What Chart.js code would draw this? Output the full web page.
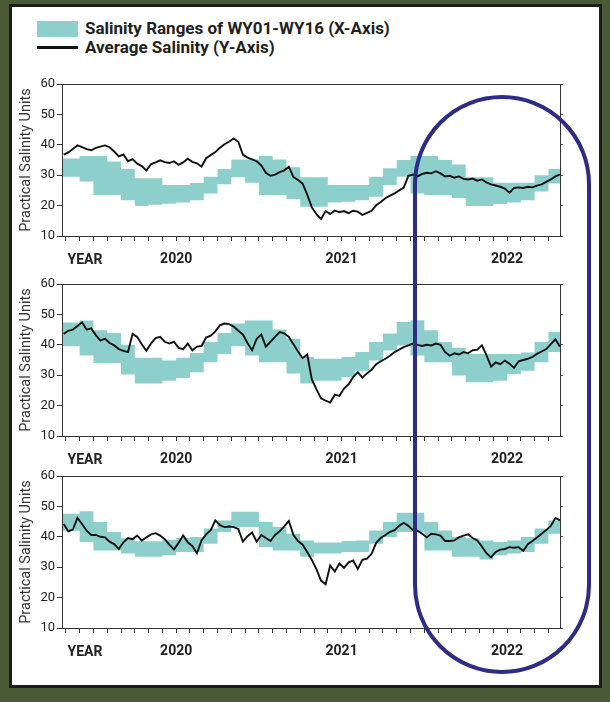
<!DOCTYPE html>
<html>
<head>
<meta charset="utf-8">
<script src="https://cdn.jsdelivr.net/npm/chart.js@4.4.0/dist/chart.umd.min.js"></script>
<style>
    html, body { margin: 0; padding: 0; }
    body { width: 610px; height: 702px; background: #4a5a36; position: relative; overflow: hidden; font-family: Roboto, sans-serif; }
    #panel { position: absolute; left: 9px; top: 4px; width: 593px; height: 684px; box-sizing: border-box; background: #fff; border: 3px solid #1c1c1c; }
    .chart { position: absolute; left: 10px; }
    .lg { position: absolute; left: 85px; font: 700 17px Roboto, sans-serif; color: #231f20; line-height: 19px; white-space: nowrap; }
    .swatch { position: absolute; left: 37px; top: 21px; width: 41px; height: 16px; background: #8dcfcb; }
    .dash { position: absolute; left: 37px; top: 46px; width: 41px; height: 3px; background: #111; }
    #oval { position: absolute; left: 413px; top: 95px; width: 178px; height: 579px; box-sizing: border-box; border: 4px solid #2f2c86; border-radius: 89px; z-index: 10; }
</style>
</head>
<body>
<div id="panel"></div>
<div class="swatch"></div>
<div class="lg" style="top:19px">Salinity Ranges of WY01-WY16 (X-Axis)</div>
<div class="dash"></div>
<div class="lg" style="top:38px">Average Salinity (Y-Axis)</div>

<canvas id="salinity1" class="chart" style="top:70px" width="570" height="200"></canvas>
<canvas id="salinity2" class="chart" style="top:270px" width="570" height="200"></canvas>
<canvas id="salinity3" class="chart" style="top:462px" width="570" height="200"></canvas>
<div id="oval"></div>

<script>
// ================= DATA =================
// x axis runs roughly May 2019 - May 2022 (decimal years)
const xMin = 2019.31;
const xMax = 2022.32;
const firstMonth = 2019 + 4 / 12;   // May 2019, first monthly step of the ranges
const yearTicks = [2020, 2021, 2022];
const yearLabels = ['2020', '2021', '2022'];
const yTicks = [10, 20, 30, 40, 50, 60];

// average salinity, one reading every ~10 days from lineStart
const lineStart = 2019.32;

// panel 1
const rangeHi1 = [35.5, 36.3, 36.3, 34.5, 32.0, 29.0, 29.0, 26.8, 26.8, 27.4, 29.5, 32.0, 35.2, 35.2, 36.3, 35.2, 32.6, 29.3,
    29.3, 26.8, 26.8, 26.8, 29.5, 32.3, 35.0, 36.3, 36.3, 35.0, 33.5, 29.3, 29.3, 27.5, 27.5, 27.5, 30.0, 32.0];
const rangeLo1 = [29.5, 27.9, 23.5, 23.5, 21.8, 19.9, 20.3, 20.6, 21.0, 21.8, 24.0, 27.0, 29.3, 27.5, 23.5, 23.5, 22.1, 19.6,
    19.6, 21.0, 21.3, 21.8, 22.9, 26.8, 29.5, 24.0, 23.5, 23.5, 22.5, 19.9, 19.9, 20.5, 21.0, 21.8, 24.6, 27.3];
const avg1 = [36.8, 37.5, 38.6, 39.8, 39.2, 38.6, 38.2, 39.0, 39.4, 39.8,
    39.2, 37.8, 36.2, 36.8, 34.6, 35.3, 33.8, 33.0, 31.5, 33.6,
    34.2, 34.9, 34.3, 34.0, 34.6, 33.4, 34.2, 35.4, 34.4, 33.9,
    32.8, 35.6, 36.6, 37.6, 39.0, 40.2, 41.0, 42.1, 41.0, 36.8,
    35.8, 35.2, 34.6, 33.2, 30.8, 29.8, 30.2, 31.0, 31.6, 32.8,
    29.4, 28.4, 27.2, 23.6, 19.4, 17.2, 15.6, 18.2, 17.2, 18.4,
    17.8, 18.2, 17.5, 18.3, 18.0, 16.9, 17.6, 18.3, 20.1, 21.2,
    22.4, 23.3, 24.0, 25.0, 25.9, 29.8, 30.2, 29.6, 30.4, 30.8,
    30.6, 31.3, 30.6, 29.6, 29.8, 29.2, 29.6, 28.8, 28.6, 28.9,
    28.2, 28.6, 27.6, 27.0, 26.6, 26.2, 25.6, 24.2, 25.8, 26.0,
    25.8, 26.2, 26.0, 26.6, 27.0, 27.8, 28.6, 29.6, 30.2];

// panel 2
const rangeHi2 = [47.3, 48.0, 44.8, 43.9, 40.0, 35.7, 35.7, 34.8, 35.7, 37.3, 40.9, 43.9, 47.0, 48.0, 48.0, 45.0, 42.0, 36.0,
    35.4, 35.4, 36.0, 37.6, 40.9, 43.7, 47.5, 48.1, 44.8, 40.9, 39.0, 37.0, 37.0, 37.0, 37.0, 37.5, 40.9, 44.2];
const rangeLo2 = [39.5, 36.5, 34.0, 34.0, 30.2, 27.3, 27.3, 28.2, 29.1, 31.0, 34.3, 37.0, 39.5, 36.5, 34.3, 34.3, 30.6, 27.3,
    28.2, 28.2, 29.3, 31.5, 34.8, 38.1, 39.8, 36.5, 34.3, 34.3, 29.9, 27.7, 27.7, 28.2, 30.4, 31.5, 34.3, 37.6];
const avg2 = [43.6, 44.6, 45.0, 46.2, 47.4, 45.0, 45.4, 43.2, 41.4, 42.0,
    40.6, 39.8, 38.6, 38.0, 37.6, 43.6, 42.6, 40.2, 38.0, 40.4,
    42.2, 42.6, 41.0, 40.4, 41.0, 39.0, 38.6, 40.4, 38.2, 39.4,
    39.6, 42.4, 43.0, 44.4, 46.4, 47.0, 46.8, 46.0, 44.6, 43.4,
    40.6, 38.2, 42.0, 43.4, 39.4, 41.0, 42.6, 44.2, 43.8, 42.6,
    40.2, 37.8, 35.6, 36.8, 28.6, 25.4, 22.4, 21.6, 21.0, 23.6,
    23.2, 25.6, 27.0, 29.4, 31.0, 29.2, 30.6, 31.8, 33.6, 34.6,
    35.4, 36.4, 37.6, 38.4, 39.2, 39.8, 40.4, 40.0, 39.6, 40.0,
    39.8, 40.4, 40.0, 37.6, 36.4, 37.2, 36.8, 37.6, 37.2, 38.2,
    38.4, 39.8, 36.6, 32.8, 34.2, 33.6, 34.8, 33.8, 32.4, 34.6,
    35.0, 35.4, 36.0, 37.0, 37.8, 38.6, 40.2, 41.8, 39.4];

// panel 3
const rangeHi3 = [47.6, 48.4, 44.9, 41.6, 39.5, 38.5, 38.5, 39.0, 39.6, 39.9, 42.7, 45.4, 48.2, 48.2, 44.9, 43.2, 41.0, 38.8,
    38.1, 38.1, 38.6, 38.8, 42.1, 44.9, 47.9, 47.9, 44.9, 42.1, 39.9, 39.5, 38.8, 38.3, 38.8, 39.9, 42.7, 45.4];
const rangeLo3 = [42.0, 38.3, 35.5, 35.5, 34.5, 33.4, 33.4, 33.9, 35.0, 35.0, 37.7, 41.6, 43.2, 43.2, 36.6, 35.5, 35.5, 33.4,
    34.5, 34.5, 35.0, 35.0, 37.7, 39.9, 41.6, 41.6, 35.5, 35.5, 33.4, 33.4, 32.5, 33.9, 34.5, 35.0, 37.7, 41.0];
const avg3 = [44.2, 41.8, 42.4, 46.2, 44.2, 42.0, 40.6, 40.6, 40.0, 39.8,
    38.4, 37.6, 36.0, 38.2, 39.6, 39.2, 40.4, 38.8, 39.8, 40.8,
    41.2, 40.4, 39.2, 37.4, 35.8, 38.0, 40.4, 38.2, 37.0, 34.6,
    38.8, 40.8, 42.2, 45.4, 43.8, 43.2, 43.4, 43.2, 42.6, 38.4,
    40.2, 41.4, 38.4, 40.6, 39.6, 38.6, 40.6, 41.8, 43.4, 45.2,
    40.6, 38.6, 37.4, 35.0, 32.4, 29.4, 25.6, 24.4, 30.6, 28.6,
    31.2, 29.8, 31.6, 32.2, 29.4, 32.4, 32.8, 34.4, 38.0, 39.6,
    40.6, 41.6, 42.2, 43.6, 44.6, 43.6, 42.2, 42.0, 41.0, 39.8,
    41.0, 40.8, 40.4, 38.6, 38.6, 38.8, 39.8, 40.4, 40.8, 39.6,
    38.8, 36.8, 34.6, 33.2, 35.0, 35.8, 36.0, 36.6, 36.4, 36.6,
    35.4, 37.6, 38.6, 39.8, 41.0, 42.2, 43.6, 46.2, 45.4];

const teal = '#8dcfcb';

// monthly tick marks along the x axis
const monthTicks = rangeHi1.map((v, k) => firstMonth + k / 12);

// ================= HELPERS =================
function rangePoints(vals) {
    const pts = vals.map((v, k) => ({ x: k === 0 ? xMin : firstMonth + k / 12, y: v }));
    pts.push({ x: xMax, y: vals[vals.length - 1] });
    return pts;
}

function avgPoints(vals) {
    return vals.map((v, i) => ({ x: lineStart + i / 36, y: v }));
}

function yearLabel(value) {
    const i = yearTicks.findIndex(y => Math.abs(y - value) < 0.01);
    return i >= 0 ? yearLabels[i] : '';
}

// box round the plot + the "YEAR" word under the axis
const frame = {
    id: 'frame',
    afterDraw(chart) {
        const { ctx, chartArea: a } = chart;
        ctx.save();
        ctx.strokeStyle = '#333';
        ctx.lineWidth = 1;
        ctx.strokeRect(Math.round(a.left) + 0.5, Math.round(a.top) + 0.5, a.right - a.left, a.bottom - a.top);
        ctx.font = 'bold 14px Roboto';
        ctx.fillStyle = '#222';
        ctx.textAlign = 'center';
        ctx.textBaseline = 'middle';
        ctx.fillText('YEAR', a.left + 23, a.bottom + 24);
        ctx.restore();
    }
};

// ================= CHART RENDERING =================
function renderPanel(id, hi, lo, avg) {
    const ctx = document.getElementById(id).getContext('2d');

    new Chart(ctx, {
        type: 'line',
        data: {
            datasets: [
                { data: avgPoints(avg), borderColor: '#111', borderWidth: 1.9, pointRadius: 0, fill: false },
                { data: rangePoints(hi), stepped: true, borderWidth: 0, pointRadius: 0, backgroundColor: teal, fill: '+1' },
                { data: rangePoints(lo), stepped: true, borderWidth: 0, pointRadius: 0, fill: false }
            ]
        },
        options: {
            responsive: false,
            animation: false,
            events: [],
            layout: { padding: { left: 2, right: 12, top: 14, bottom: 0 } },
            plugins: {
                legend: { display: false },
                tooltip: { enabled: false }
            },
            scales: {
                x: {
                    type: 'linear',
                    min: xMin,
                    max: xMax,
                    afterBuildTicks: s => { s.ticks = monthTicks.map(v => ({ value: v })); },
                    afterFit: s => { s.height = 34; },
                    ticks: {
                        autoSkip: false,
                        maxRotation: 0,
                        padding: 10,
                        color: '#222',
                        font: { family: 'Roboto', size: 14, weight: 'bold' },
                        callback: v => yearLabel(v)
                    },
                    grid: { drawOnChartArea: false, tickLength: 5, tickColor: '#333' },
                    border: { color: '#333' }
                },
                y: {
                    min: 10,
                    max: 60,
                    afterBuildTicks: s => { s.ticks = yTicks.map(v => ({ value: v })); },
                    afterFit: s => { s.width = 50; },
                    ticks: {
                        padding: 2,
                        color: '#222',
                        font: { family: 'Roboto', size: 13 }
                    },
                    grid: { drawOnChartArea: false, tickLength: 5, tickColor: '#333' },
                    border: { color: '#333' },
                    title: {
                        display: true,
                        text: 'Practical Salinity Units',
                        color: '#333',
                        padding: { top: 6, bottom: 0 },
                        font: { family: 'Roboto', size: 14.5 }
                    }
                },
                y2: {
                    position: 'right',
                    min: 10,
                    max: 60,
                    afterBuildTicks: s => { s.ticks = yTicks.map(v => ({ value: v })); },
                    afterFit: s => { s.width = 8; },
                    ticks: { callback: () => '' },
                    grid: { drawOnChartArea: false, tickLength: 3, tickColor: '#555' },
                    border: { color: '#333' }
                }
            }
        },
        plugins: [frame]
    });
}

renderPanel('salinity1', rangeHi1, rangeLo1, avg1);
renderPanel('salinity2', rangeHi2, rangeLo2, avg2);
renderPanel('salinity3', rangeHi3, rangeLo3, avg3);
</script>
</body>
</html>
